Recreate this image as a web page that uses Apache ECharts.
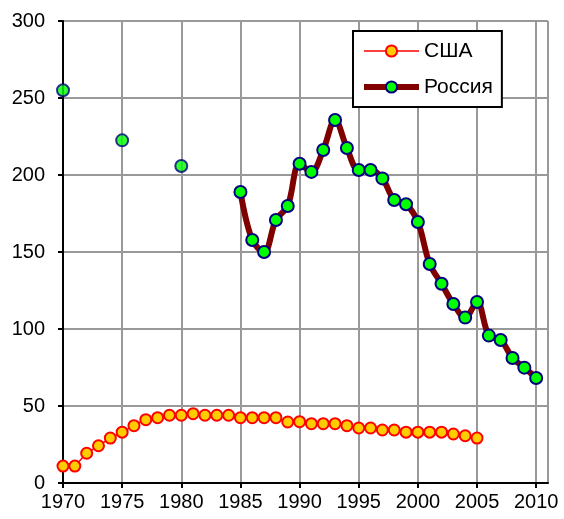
<!DOCTYPE html>
<html>
<head>
<meta charset="utf-8">
<script src="https://cdn.jsdelivr.net/npm/echarts@6/dist/echarts.min.js"></script>
<style>
  html, body { margin: 0; padding: 0; background: #fff; }
  #chart { width: 564px; height: 519px; }
</style>
</head>
<body>
<div id="chart"></div>
<script>
// годы и значения
const usaYears = [1970, 1971, 1972, 1973, 1974, 1975, 1976, 1977, 1978, 1979,
  1980, 1981, 1982, 1983, 1984, 1985, 1986, 1987, 1988, 1989,
  1990, 1991, 1992, 1993, 1994, 1995, 1996, 1997, 1998, 1999,
  2000, 2001, 2002, 2003, 2004, 2005];
const usaValues = [11, 11, 19.3, 24.2, 29.2, 33, 37.2, 41.1, 42.4, 44,
  44, 45, 44, 44, 44, 42.4, 42.4, 42.4, 42.4, 39.6,
  39.8, 38.5, 38.5, 38.5, 37.2, 35.7, 35.7, 34.4, 34.4, 33,
  33, 33, 33, 31.8, 30.7, 29.2];

// отдельные точки 1970-1980 (без линии)
const russiaEarlyYears = [1970, 1975, 1980];
const russiaEarlyValues = [255, 222.5, 205.8];

const russiaYears = [1985, 1986, 1987, 1988, 1989, 1990, 1991, 1992, 1993, 1994,
  1995, 1996, 1997, 1998, 1999, 2000, 2001, 2002, 2003, 2004,
  2005, 2006, 2007, 2008, 2009, 2010];
const russiaValues = [189, 157.8, 150, 170.8, 179.9, 207.3, 202, 216.2, 235.7, 217.5,
  203.2, 203.2, 197.8, 183.8, 181, 169.5, 142.2, 129.4, 116.2, 107.4,
  117.5, 95.7, 92.9, 81.2, 74.9, 68.2];

const pairs = (xs, ys) => xs.map((x, i) => [x, ys[i]]);

const chart = echarts.init(document.getElementById('chart'));

const usaMarker = { color: '#ffcc00', borderColor: '#ff0000', borderWidth: 2 };
const russiaMarker = { color: '#00ff00', borderColor: '#000080', borderWidth: 2 };

const option = {
  animation: false,
  textStyle: { fontFamily: 'Liberation Sans, Arial, sans-serif' },
  grid: { left: 63, right: 16, top: 21, bottom: 36 },
  legend: {
    left: 353,
    top: 31,
    orient: 'vertical',
    backgroundColor: '#fff',
    borderColor: '#000',
    borderWidth: 2,
    borderRadius: 0,
    padding: [8, 9, 8, 8],
    itemGap: 12,
    itemWidth: 55,
    itemHeight: 14,
    textStyle: { fontSize: 21, lineHeight: 24, color: '#000' },
    data: [
      { name: 'США', lineStyle: { color: '#ff0000', width: 1.5 }, itemStyle: usaMarker },
      { name: 'Россия', lineStyle: { color: '#800000', width: 6 }, itemStyle: russiaMarker }
    ]
  },
  xAxis: {
    type: 'value',
    min: 1970,
    max: 2011,
    interval: 5,
    axisLine: { lineStyle: { color: '#000', width: 2 } },
    axisTick: { show: true, length: 5, lineStyle: { color: '#000', width: 2 } },
    axisLabel: {
      fontSize: 20,
      color: '#000',
      margin: 9,
      showMaxLabel: false,
      formatter: v => (v % 5 === 0 ? String(v) : '')
    },
    splitLine: { show: true, lineStyle: { color: '#999', width: 2 } }
  },
  yAxis: {
    type: 'value',
    min: 0,
    max: 300,
    interval: 50,
    axisLine: { show: true, lineStyle: { color: '#000', width: 2 } },
    axisTick: { show: true, length: 5, lineStyle: { color: '#000', width: 2 } },
    axisLabel: { fontSize: 20, color: '#000', margin: 18 },
    splitLine: { show: true, lineStyle: { color: '#999', width: 2 } }
  },
  series: [
    {
      name: 'США',
      type: 'line',
      data: pairs(usaYears, usaValues),
      symbol: 'circle',
      symbolSize: 11,
      lineStyle: { color: '#ff0000', width: 1.5 },
      itemStyle: usaMarker,
      z: 3
    },
    {
      name: 'Россия',
      type: 'line',
      data: pairs(russiaYears, russiaValues),
      smooth: 0.35,
      symbol: 'circle',
      symbolSize: 12,
      lineStyle: { color: '#800000', width: 6 },
      itemStyle: russiaMarker,
      z: 4
    },
    {
      name: 'Россия',
      type: 'scatter',
      data: pairs(russiaEarlyYears, russiaEarlyValues),
      symbol: 'circle',
      symbolSize: 12,
      itemStyle: russiaMarker,
      z: 4
    }
  ]
};

chart.setOption(option);
</script>
</body>
</html>
